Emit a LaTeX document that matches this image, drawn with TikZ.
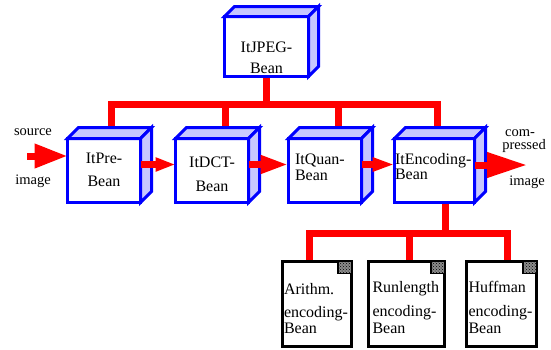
\documentclass[tikz,border=0pt]{standalone}
\usepackage{fontspec}
\setmainfont{Liberation Serif}
\usetikzlibrary{arrows.meta,calc,patterns}
\pgfdeclarelayer{bg}
\pgfsetlayers{bg,main}
\tikzset{
  bean/.style={draw=blue, line width=3pt, fill=white, outer sep=0pt, inner sep=0pt,
    minimum height=64pt, minimum width=73pt, text width=73pt, align=center,
    font=\fontsize{16}{19}\selectfont, text height=0pt},
  face/.style={draw=blue, line width=3pt, fill=blue!22},
  doc/.style={draw=black, line width=3pt, fill=white, outer sep=0pt, inner sep=0pt,
    minimum height=85pt, align=left, text height=0pt, text depth=24pt,
    font=\fontsize{16}{19}\selectfont},
  bus/.style={draw=red, line width=7pt},
  flow/.style={draw=red, line width=7pt},
  lbl/.style={font=\fontsize{14.5}{17}\selectfont, inner sep=0pt},
  hatchbg/.style={fill=black!45},
  hatch/.style={draw=black, line width=1.5pt, pattern=crosshatch dots}
}
\begin{document}
\begin{tikzpicture}[x=1pt,y=-1pt]
\useasboundingbox (0,0) rectangle (551,349);

% bean boxes
\node[bean, minimum width=84pt, minimum height=60pt, text width=84pt, text height=11pt, text depth=0pt]
  (jpeg) at (266.5,46.5) {ItJPEG-\\[2pt]Bean};
\node[bean, text depth=15pt] (pre) at (104,170.5) {ItPre-\\[4pt]Bean};
\node[bean, text depth=7pt] (dct) at (212,170.5) {ItDCT-\\[5pt]Bean};
\node[bean, text depth=13pt, text width=60pt, align=left] (quan) at (325,170.5) {ItQuan-\\[-3pt]Bean};
\node[bean, text depth=13pt, minimum width=80pt, text width=79pt, align=left] (enc) at (434.5,170.5) {ItEncoding-\\[-3.5pt]Bean};

% 3D faces
\foreach \n/\d in {jpeg/10, pre/11, dct/11, quan/11, enc/11} {
  \draw[face] (\n.north west) -- ++(\d,-\d) -- ([shift={(\d,-\d)}]\n.north east) -- (\n.north east) -- cycle;
  \draw[face] (\n.north east) -- ++(\d,-\d) -- ([shift={(\d,-\d)}]\n.south east) -- (\n.south east) -- cycle;
}

% document beans
\node[doc, minimum width=69pt, text width=66pt, text depth=20pt] (arith) at (317,304) {Arithm.\\[4pt]encoding-\\[-3pt]Bean};
\node[doc, minimum width=76pt, text width=68pt] (run) at (406.5,304) {Runlength\\[5pt]encoding-\\[-2pt]Bean};
\node[doc, minimum width=70pt, text width=66pt] (huff) at (501.5,304) {Huffman\\[5pt]encoding-\\[-2pt]Bean};
\foreach \n in {arith, run, huff} {
  \fill[hatchbg] ([xshift=-13.5pt]\n.north east) rectangle ([yshift=-12pt]\n.north east);
  \draw[hatch] ([xshift=-13.5pt]\n.north east) rectangle ([yshift=-12pt]\n.north east);
}

% hierarchy connectors
\begin{pgfonlayer}{bg}
  \coordinate (topbus) at (0,104.5);
  \coordinate (lowbus) at (0,233.5);
  \coordinate (preS) at ([xshift=7.5pt]pre.north);
  \coordinate (dctS) at ([xshift=13pt]dct.north);
  \coordinate (quanS) at ([xshift=13pt]quan.north);
  \coordinate (encS) at ([xshift=3pt]enc.north);
  \coordinate (encL) at ([xshift=10.5pt]enc.south);
  \coordinate (arS) at ([xshift=-7.5pt]arith.north);
  \coordinate (ruS) at ([xshift=3pt]run.north);
  \coordinate (huS) at ([xshift=6pt]huff.north);
  \draw[bus] (preS) -- (preS |- topbus) -- (encS |- topbus) -- (encS);
  \draw[bus] (jpeg.south) -- (jpeg.south |- topbus);
  \draw[bus] (dctS) -- (dctS |- topbus);
  \draw[bus] (quanS) -- (quanS |- topbus);
  \draw[bus] (encL) -- (encL |- lowbus);
  \draw[bus] (arS) -- (arS |- lowbus) -- (huS |- lowbus) -- (huS);
  \draw[bus] (ruS) -- (ruS |- lowbus);
\end{pgfonlayer}

% data flow arrows
\coordinate (srcstart) at (27,156);
\coordinate (outend) at (527,165);
\draw[flow, -{Triangle[length=33pt,width=23pt]}] (srcstart) -- ([yshift=14.5pt]pre.west);
\draw[flow, -{Triangle[length=20pt,width=13pt]}] ([yshift=6pt]pre.east) -- ([yshift=6pt]dct.west);
\draw[flow, -{Triangle[length=28pt,width=17pt]}] ([yshift=6pt]dct.east) -- ([yshift=6pt]quan.west);
\draw[flow, -{Triangle[length=22pt,width=13pt]}] ([yshift=6pt]quan.east) -- ([yshift=6pt]enc.west);
\draw[flow, -{Triangle[length=40pt,width=24pt]}] ([yshift=5.5pt]enc.east) -- (outend);

% outer labels
\node[lbl] (srclbl) at (33,132) {source};
\node[lbl] (srcimg) at (33,181) {image};
\node[lbl, anchor=base] (cmplbl) at (520,136) {com-};
\node[lbl, anchor=base] (preslbl) at (524,149) {pressed};
\node[lbl] (outimg) at (527,182) {image};
\end{tikzpicture}
\end{document}
